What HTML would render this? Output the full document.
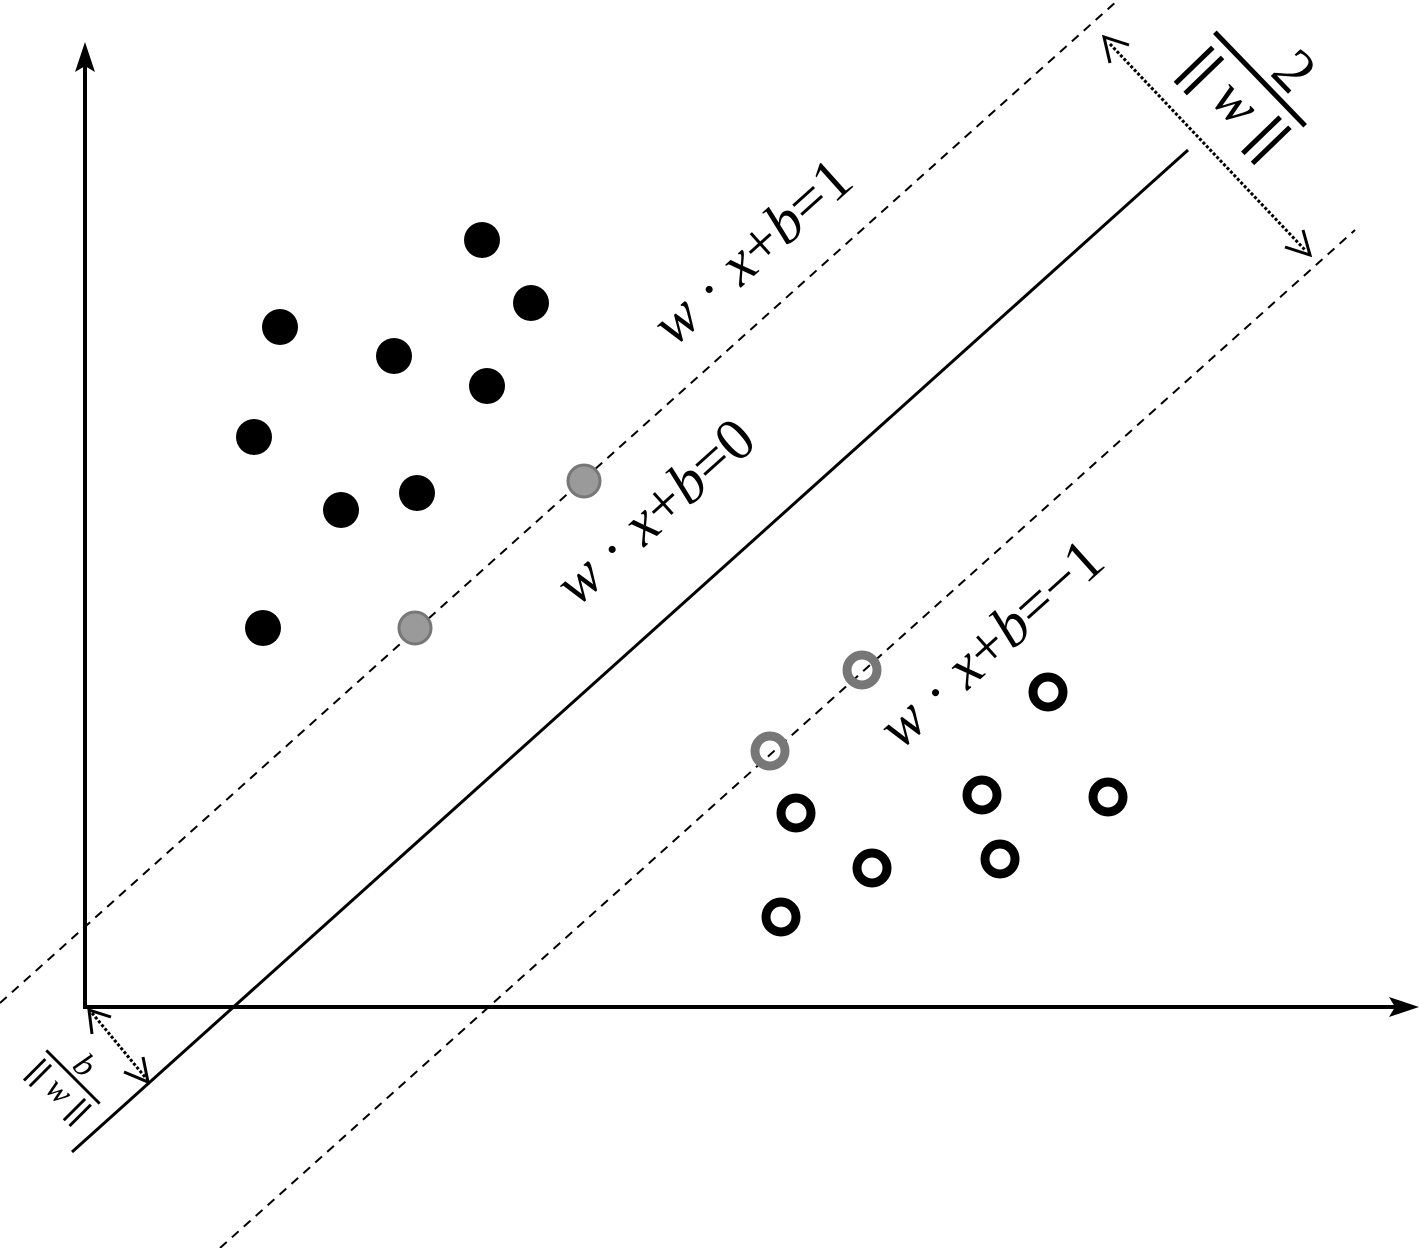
<!DOCTYPE html>
<html><head><meta charset="utf-8"><style>html,body{margin:0;padding:0;background:#fff}svg{display:block}</style></head>
<body>
<svg width="1419" height="1248" viewBox="0 0 1419 1248" xmlns="http://www.w3.org/2000/svg">
<!-- axes -->
<line x1="85" y1="1007" x2="85" y2="60" stroke="#000" stroke-width="4"/>
<polygon points="85,42 75,72 85,66 95,72" fill="#000"/>
<line x1="83" y1="1007" x2="1400" y2="1007" stroke="#000" stroke-width="4"/>
<polygon points="1419,1007 1389,997 1395,1007 1389,1017" fill="#000"/>
<!-- lines -->
<line x1="72" y1="1152" x2="1188" y2="150" stroke="#000" stroke-width="3"/>
<line x1="0" y1="1003" x2="1118" y2="0" stroke="#000" stroke-width="2" stroke-dasharray="9,7"/>
<line x1="220" y1="1248" x2="1355" y2="230" stroke="#000" stroke-width="2" stroke-dasharray="9,7"/>
<!-- filled dots -->
<g fill="#000">
<circle cx="482" cy="240" r="18"/><circle cx="531" cy="303" r="18"/><circle cx="280" cy="327" r="18"/>
<circle cx="394" cy="356" r="18"/><circle cx="487" cy="386" r="18"/><circle cx="254" cy="437" r="18"/>
<circle cx="341" cy="510" r="18"/><circle cx="417" cy="493" r="18"/><circle cx="263" cy="628" r="18"/>
</g>
<circle cx="584" cy="481" r="16" fill="#9a9a9a" stroke="#777" stroke-width="3"/>
<circle cx="415" cy="628" r="16" fill="#9a9a9a" stroke="#777" stroke-width="3"/>
<g fill="none" stroke="#777" stroke-width="9">
<circle cx="862" cy="670" r="15"/><circle cx="770" cy="751" r="15"/>
</g>
<g fill="none" stroke="#000" stroke-width="9">
<circle cx="1048" cy="692" r="15"/><circle cx="982" cy="795" r="15"/><circle cx="1108" cy="797" r="15"/>
<circle cx="796" cy="813" r="15"/><circle cx="872" cy="868" r="15"/><circle cx="1000" cy="859" r="15"/>
<circle cx="781" cy="917" r="15"/>
</g>
<!-- labels -->
<g font-family="'Liberation Serif', serif" font-size="60" text-anchor="middle" fill="#000">
<text transform="translate(765,266) rotate(-41.9)"><tspan font-style="italic">w</tspan> · <tspan font-style="italic">x</tspan>+<tspan font-style="italic">b</tspan>=1</text>
<text transform="translate(668,526) rotate(-41.9)"><tspan font-style="italic">w</tspan> · <tspan font-style="italic">x</tspan>+<tspan font-style="italic">b</tspan>=0</text>
<text transform="translate(1004,658) rotate(-41.9)"><tspan font-style="italic">w</tspan> · <tspan font-style="italic">x</tspan>+<tspan font-style="italic">b</tspan>=−1</text>
</g>
<!-- dotted arrows -->
<g stroke="#000" stroke-width="3" fill="none">
<line x1="1110" y1="44" x2="1305" y2="250" stroke-dasharray="3,2"/>
<polyline points="1129,45 1104,37 1110,63"/>
<polyline points="1285,247 1310,255 1303,230"/>
<line x1="92" y1="1013" x2="145" y2="1077" stroke-dasharray="3,2"/>
<polyline points="111,1017 89,1010 92,1034"/>
<polyline points="124,1072 148,1082 143,1057"/>
</g>
<!-- fraction 2/||w|| -->
<g transform="translate(1260,79) rotate(46)">
<line x1="-65" y1="0" x2="65" y2="0" stroke="#000" stroke-width="5"/>
<text x="18" y="-10" font-family="'Liberation Serif', serif" font-size="62" text-anchor="middle">2</text>
<g fill="#000">
<rect x="-58" y="12" width="5" height="52"/><rect x="-44" y="12" width="5" height="52"/>
<rect x="39" y="12" width="5" height="52"/><rect x="53" y="12" width="5" height="52"/>
</g>
<text x="0" y="52" font-family="'Liberation Serif', serif" font-style="italic" font-size="58" text-anchor="middle">w</text>
</g>
<!-- fraction b/||w|| -->
<g transform="translate(73,1077) rotate(45) scale(0.58)">
<line x1="-65" y1="0" x2="65" y2="0" stroke="#000" stroke-width="5"/>
<text x="0" y="-10" font-family="'Liberation Serif', serif" font-style="italic" font-size="58" text-anchor="middle">b</text>
<g fill="#000">
<rect x="-58" y="12" width="5" height="52"/><rect x="-44" y="12" width="5" height="52"/>
<rect x="39" y="12" width="5" height="52"/><rect x="53" y="12" width="5" height="52"/>
</g>
<text x="0" y="52" font-family="'Liberation Serif', serif" font-style="italic" font-size="58" text-anchor="middle">w</text>
</g>
</svg>
</body></html>
